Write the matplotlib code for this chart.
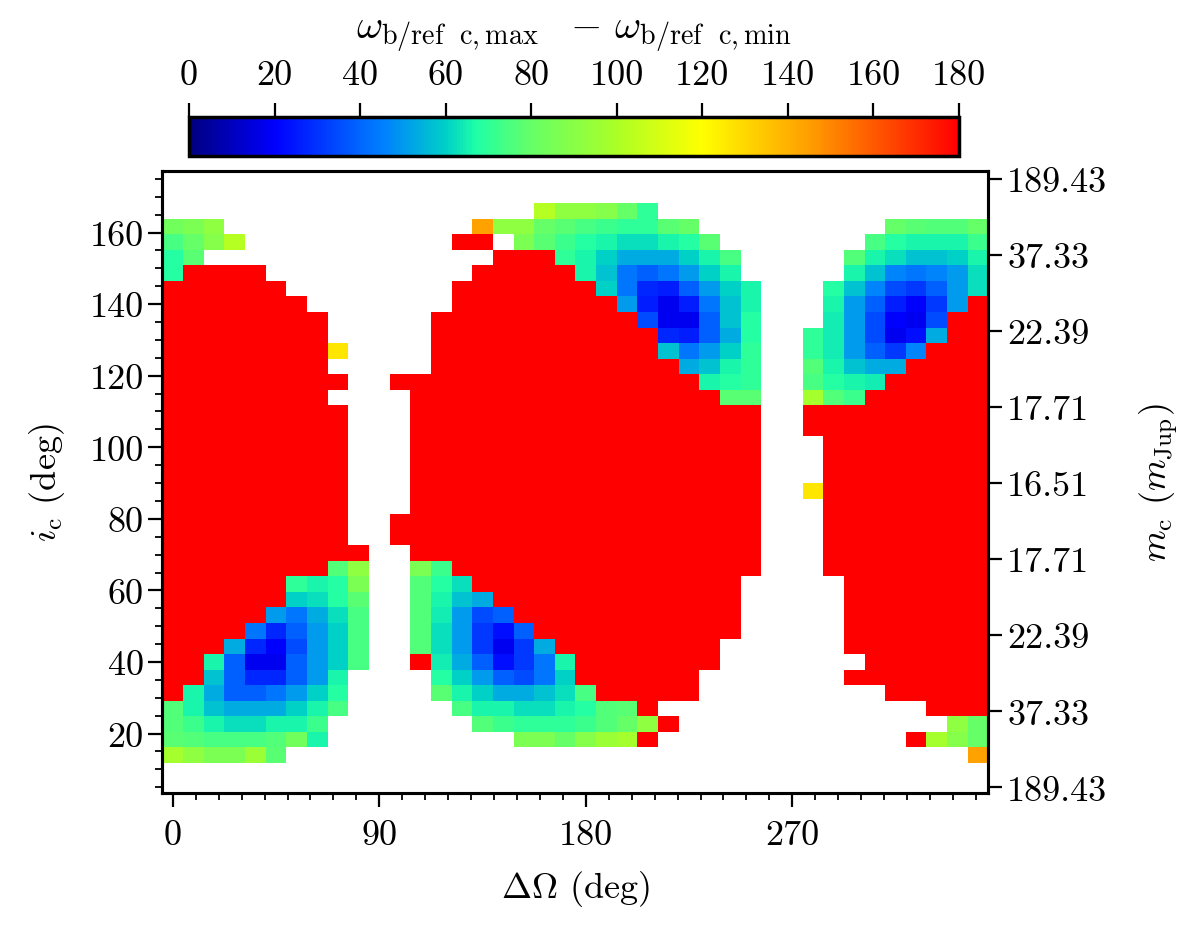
import numpy as np
import matplotlib
matplotlib.use("Agg")
import matplotlib.pyplot as plt
from matplotlib.colors import LinearSegmentedColormap

plt.rcParams['font.family'] = 'serif'
plt.rcParams['font.serif'] = ['cmr10', 'DejaVu Serif']
plt.rcParams['mathtext.fontset'] = 'cm'
plt.rcParams['axes.unicode_minus'] = False
plt.rcParams['axes.formatter.use_mathtext'] = True

# ---------------- data ----------------
# grid of the parameter space
delta_omega_centers = np.arange(0, 360, 9)        # 40 columns (deg)
incl_edges = np.linspace(11.8, 168.2, 37)         # 36 rows (deg)

# colour value read from each cell (deg); '.' = no solution (blank)
value_codes = {'a': 18, 'b': 20, 'c': 23, 'd': 26, 'e': 28, 'f': 31, 'g': 35,
               'h': 39, 'i': 43, 'j': 46, 'k': 50, 'l': 53, 'm': 57, 'n': 60,
               'o': 62, 'p': 64, 'q': 66, 'r': 68, 's': 70, 't': 72, 'u': 74,
               'v': 76, 'w': 78, 'x': 80, 'y': 83, 'z': 86, 'A': 89, 'B': 92,
               'C': 95, 'D': 98, 'E': 102, 'Y': 126, 'O': 144, 'R': 180}

# rows from top (i ~ 166 deg) to bottom (i ~ 14 deg)
grid_rows = [
    "..................EBBAxs................",
    "yzB............OBBxwutsswx.........xwvvx",
    "uxAE..........RR.zwtrqooqrw.......urqqqt",
    "rw..............RRRsqnlllnqu.....vqommnq",
    "rRRRR..........RRRRRqmihiknq.....qmjijko",
    "RRRRRR........RRRRRRRniedhknq...rmjgfhko",
    "RRRRRRR.......RRRRRRRRkdadimq...qkhdbfkR",
    "RRRRRRRR.....RRRRRRRRRRgaahmr...pkgbagRR",
    "RRRRRRRR.....RRRRRRRRRRRedhlr..spkgaclRR",
    "RRRRRRRRY....RRRRRRRRRRRmikns..spkhfjRRR",
    "RRRRRRRR.....RRRRRRRRRRRRlmqs..vqmllRRRR",
    "RRRRRRRRR..RRRRRRRRRRRRRRRqrs..urqpRRRRR",
    "RRRRRRRR....RRRRRRRRRRRRRRRww..DvtRRRRRR",
    "RRRRRRRRR...RRRRRRRRRRRRRRRRR..RRRRRRRRR",
    "RRRRRRRRR...RRRRRRRRRRRRRRRRR..RRRRRRRRR",
    "RRRRRRRRR...RRRRRRRRRRRRRRRRR...RRRRRRRR",
    "RRRRRRRRR...RRRRRRRRRRRRRRRRR...RRRRRRRR",
    "RRRRRRRRR...RRRRRRRRRRRRRRRRR...RRRRRRRR",
    "RRRRRRRRR...RRRRRRRRRRRRRRRRR..YRRRRRRRR",
    "RRRRRRRRR...RRRRRRRRRRRRRRRRR...RRRRRRRR",
    "RRRRRRRRR..RRRRRRRRRRRRRRRRRR...RRRRRRRR",
    "RRRRRRRRR..RRRRRRRRRRRRRRRRRR...RRRRRRRR",
    "RRRRRRRRRR..RRRRRRRRRRRRRRRRR...RRRRRRRR",
    "RRRRRRRRvB..ztRRRRRRRRRRRRRRR...RRRRRRRR",
    "RRRRRRsqrz..vroRRRRRRRRRRRRR.....RRRRRRR",
    "RRRRRRnorw..vqmlRRRRRRRRRRRR.....RRRRRRR",
    "RRRRRkilou..vpkghRRRRRRRRRRR.....RRRRRRR",
    "RRRRiehknu..vokfchRRRRRRRRRR.....RRRRRRR",
    "RRRlebgknu..vokfaflRRRRRRRR......RRRRRRR",
    "RRqhaahknu..RplhcfiqRRRRRRR.......RRRRRR",
    "RRmheehkq....rnkhginRRRRRR.......RRRRRRR",
    "Rqlhhiknr....wqnllmouRRRRR.........RRRRR",
    "vqmlllnqu.....uqqooqrvwR.............RRR",
    "vtqooqqt.......vtssstvxBR.............Bx",
    "wvuuuvyq.........zzxACDR............RDAx",
    "DBzzCw.................................O",
]
assert len(grid_rows) == 36 and all(len(r) == 40 for r in grid_rows)

x_ticks = [0, 90, 180, 270]
y_ticks = [20, 40, 60, 80, 100, 120, 140, 160]
cbar_ticks = [0, 20, 40, 60, 80, 100, 120, 140, 160, 180]
mass_tick_pos = [5, 26.25, 47.5, 68.75, 90, 111.25, 132.5, 153.75, 175]
mass_tick_labels = ['189.43', '37.33', '22.39', '17.71', '16.51',
                    '17.71', '22.39', '37.33', '189.43']

# ---------------- build ----------------
Z = np.array([[value_codes.get(c, np.nan) for c in row] for row in grid_rows[::-1]],
             dtype=float)
x_edges = np.append(delta_omega_centers - 4.5, delta_omega_centers[-1] + 4.5)

cmap = LinearSegmentedColormap.from_list('custom_jet', [
    (0.0, (0.0, 0.0, 0.5)),
    (20 / 180, (0.0, 0.0, 1.0)),
    (45 / 180, (0.0, 0.5, 1.0)),
    (60 / 180, (0.0, 0.82, 0.78)),
    (67 / 180, (0.12, 1.0, 0.65)),
    (80 / 180, (0.4, 1.0, 0.4)),
    (100 / 180, (0.67, 1.0, 0.15)),
    (120 / 180, (1.0, 1.0, 0.0)),
    (145 / 180, (1.0, 0.62, 0.0)),
    (163 / 180, (1.0, 0.3, 0.0)),
    (1.0, (1.0, 0.0, 0.0)),
])

FS = 26
fig = plt.figure(figsize=(12, 9.28), dpi=100)
ax = fig.add_axes([0.1354, 0.1444, 0.6883, 0.6703])
mesh = ax.pcolormesh(x_edges, incl_edges, np.ma.masked_invalid(Z), cmap=cmap,
                     vmin=0, vmax=180, shading='flat', antialiased=False,
                     linewidth=0)
ax.set_xlim(-4.5, 355.5)
ax.set_ylim(3.4, 177.2)

ax.set_xticks(x_ticks)
ax.set_xticklabels([str(t) for t in x_ticks])
ax.set_xticks(np.arange(0, 351, 10), minor=True)
ax.set_yticks(y_ticks)
ax.set_yticklabels([str(t) for t in y_ticks])
ax.set_yticks(np.arange(5, 177, 5), minor=True)
ax.tick_params(which='major', direction='out', length=10, width=1.6,
               labelsize=FS, top=False, right=False)
ax.tick_params(axis='x', which='major', pad=9)
ax.tick_params(which='minor', direction='out', length=5, width=1.3,
               top=False, right=False)
for s in ax.spines.values():
    s.set_linewidth(2.2)
ax.set_xlabel(r'$\Delta\Omega$ (deg)', fontsize=FS, labelpad=12)
ax.set_ylabel(r'$i_{\rm c}$ (deg)', fontsize=FS, labelpad=16)

ax2 = ax.twinx()
ax2.set_ylim(ax.get_ylim())
ax2.set_yticks(mass_tick_pos)
ax2.set_yticklabels(mass_tick_labels)
ax2.tick_params(which='major', direction='out', length=10, width=1.6,
                labelsize=FS)
ax2.set_ylabel(r'$m_{\rm c}$ ($m_{\rm Jup}$)', fontsize=FS, labelpad=22)
for s in ax2.spines.values():
    s.set_linewidth(2.2)

cax = fig.add_axes([0.1575, 0.8308, 0.6417, 0.042])
cb = fig.colorbar(mesh, cax=cax, orientation='horizontal')
cb.set_ticks(cbar_ticks)
cb.set_ticklabels([str(t) for t in cbar_ticks])
cax.xaxis.set_ticks_position('top')
cax.xaxis.set_label_position('top')
cax.tick_params(direction='out', length=10, width=1.6, labelsize=FS, pad=9)
cax.minorticks_off()
cb.outline.set_linewidth(2.5)
cb.set_label(r'$\omega_{\rm b/ref\ \ c,max}\ \ -\,\omega_{\rm b/ref\ \ c,min}$',
             fontsize=29, labelpad=16)

fig.savefig('out.png', dpi=100)
